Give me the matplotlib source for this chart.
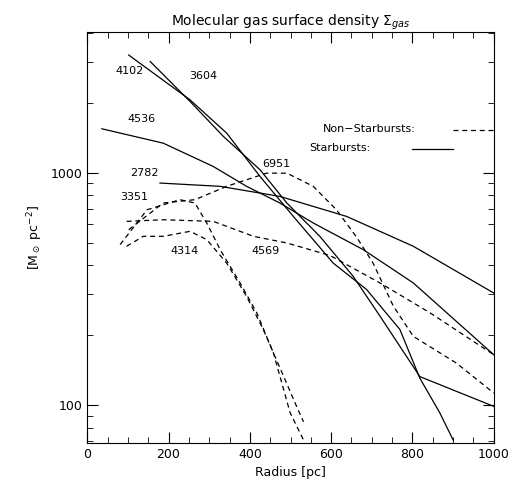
import matplotlib
matplotlib.use("Agg")
import matplotlib.pyplot as plt
from matplotlib.ticker import FixedLocator, NullFormatter, MultipleLocator

# ── Data (radius [pc], surface density [Msun pc^-2]) ─────────────────────────
r_4102 = [102, 253, 343, 425, 507, 605, 687, 769, 818, 867, 900]
s_4102 = [3206, 2057, 1480, 964, 649, 409, 315, 212, 131, 93, 71]

r_3604 = [155, 253, 335, 425, 491, 572, 654, 720, 818, 1000]
s_3604 = [3006, 2024, 1432, 1030, 741, 533, 359, 242, 133, 99]

r_4536 = [36, 187, 310, 392, 474, 556, 679, 802, 1000]
s_4536 = [1545, 1340, 1064, 874, 741, 608, 467, 336, 165]

r_2782 = [179, 327, 474, 638, 802, 1000]
s_2782 = [903, 874, 791, 649, 483, 304]

r_6951 = [102, 187, 265, 343, 441, 491, 556, 613, 663, 703, 753, 802, 908, 1000]
s_6951 = [569, 741, 766, 874, 996, 996, 874, 693, 527, 409, 267, 198, 152, 113]

r_4569 = [97, 187, 310, 409, 491, 597, 720, 843, 1000]
s_4569 = [618, 628, 618, 533, 499, 441, 336, 250, 165]

r_3351 = [81, 147, 228, 265, 294, 327, 376, 417, 458, 499, 532]
s_3351 = [491, 693, 766, 741, 608, 467, 336, 250, 168, 93, 71]

r_4314 = [97, 138, 187, 253, 294, 343, 392, 433, 474, 515, 532]
s_4314 = [483, 533, 533, 560, 516, 409, 294, 212, 145, 99, 85]

solid = [(r_4102, s_4102), (r_3604, s_3604), (r_4536, s_4536), (r_2782, s_2782)]
dashed = [(r_6951, s_6951), (r_4569, s_4569), (r_3351, s_3351), (r_4314, s_4314)]

names = ["4102", "3604", "4536", "2782", "3351", "4314", "4569", "6951"]
name_r = [70, 250, 100, 105, 80, 205, 405, 430]
name_s = [2750, 2600, 1700, 1000, 790, 460, 460, 1090]

fig = plt.figure(figsize=(5.16, 4.91), dpi=100)
ax = fig.add_axes([0.169, 0.098, 0.788, 0.837])

for r, s in solid:
    ax.plot(r, s, color="black", lw=0.9)
for r, s in dashed:
    ax.plot(r, s, color="black", lw=0.9, ls=(0, (4, 3)))

for n, x, y in zip(names, name_r, name_s):
    ax.text(x, y, n, fontsize=8, ha="left", va="center")

ax.text(580, 1540, "Non\u2212Starbursts:", fontsize=8, va="center")
ax.plot([900, 1000], [1520, 1520], color="black", lw=0.9, ls=(0, (4, 3)))
ax.text(545, 1280, "Starbursts:", fontsize=8, va="center")
ax.plot([800, 900], [1270, 1270], color="black", lw=0.9)

ax.set_yscale("log")
ax.set_xlim(0, 1000)
ax.set_ylim(69, 4030)
ax.xaxis.set_major_locator(MultipleLocator(200))
ax.xaxis.set_minor_locator(MultipleLocator(50))
ax.yaxis.set_major_locator(FixedLocator([100, 1000]))
ax.yaxis.set_major_formatter(matplotlib.ticker.FixedFormatter(["100", "1000"]))
ax.yaxis.set_minor_formatter(NullFormatter())
ax.tick_params(which="both", direction="in", top=True, right=True, labelsize=9)
ax.tick_params(which="major", length=8)
ax.tick_params(which="minor", length=4)

ax.set_xlabel("Radius [pc]", fontsize=9)
ax.set_ylabel(r"[M$_\odot$ pc$^{-2}$]", fontsize=9)
ax.set_title(r"Molecular gas surface density $\Sigma_{gas}$", fontsize=10, pad=4)

fig.savefig("out.png", dpi=100)
